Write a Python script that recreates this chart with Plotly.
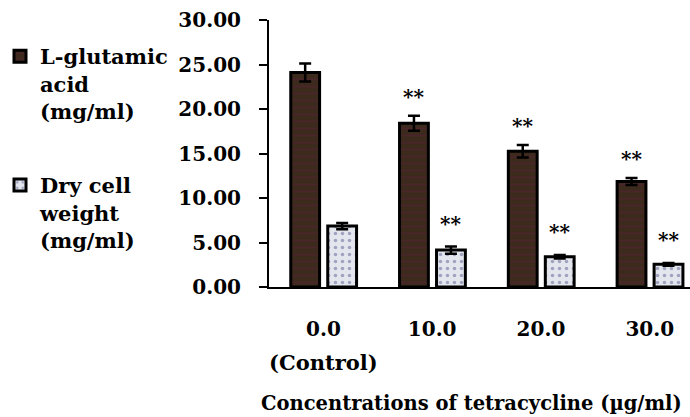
import plotly.graph_objects as go

categories = ["0.0", "10.0", "20.0", "30.0"]
glutamic = [24.1, 18.4, 15.25, 11.85]
glutamic_err = [1.0, 0.85, 0.7, 0.4]
dry_weight = [6.85, 4.15, 3.4, 2.55]
dry_err = [0.35, 0.4, 0.2, 0.15]
glutamic_sig = ["", "**", "**", "**"]
dry_sig = ["", "**", "**", "**"]
series_names = ["L-glutamic<br>acid<br>(mg/ml)", "Dry cell<br>weight<br>(mg/ml)"]
y_ticks = [0, 5, 10, 15, 20, 25, 30]

FONT = "DejaVu Serif"
W, H = 690, 417
ML, MR, MT, MB = 268, 0, 20, 130
pw = W - ML - MR
ph = H - MT - MB

xs = list(range(len(categories)))

fig = go.Figure()
fig.add_trace(go.Bar(
    x=xs, y=glutamic, name=series_names[0], legendgroup="a",
    width=0.265, offset=-0.30,
    marker=dict(color="#3c2a1d", line=dict(color="black", width=3),
                pattern=dict(shape="-", fgcolor="#5a2035", bgcolor="#3c2a1d", size=7, solidity=0.25)),
    error_y=dict(type="data", array=glutamic_err, color="black", thickness=2.5, width=6),
))
fig.add_trace(go.Bar(
    x=xs, y=dry_weight, name=series_names[1], legendgroup="b",
    width=0.265, offset=0.04,
    marker=dict(color="#e4e6ee", line=dict(color="black", width=3),
                pattern=dict(shape=".", fgcolor="#5b6090", bgcolor="#e4e6ee", size=7, solidity=0.2)),
    error_y=dict(type="data", array=dry_err, color="black", thickness=2.5, width=6),
))

annotations = []
for i in xs:
    if glutamic_sig[i]:
        annotations.append(dict(x=i - 0.30 + 0.1325, y=glutamic[i] + glutamic_err[i], xref="x", yref="y",
                                text="<b>%s</b>" % glutamic_sig[i], showarrow=False, yanchor="bottom", yshift=5,
                                font=dict(family=FONT, size=20, color="black")))
    if dry_sig[i]:
        annotations.append(dict(x=i + 0.04 + 0.1325, y=dry_weight[i] + dry_err[i], xref="x", yref="y",
                                text="<b>%s</b>" % dry_sig[i], showarrow=False, yanchor="bottom", yshift=9,
                                font=dict(family=FONT, size=20, color="black")))

annotations.append(dict(x=0, y=(MT + ph - 362) / ph, xref="x", yref="paper", text="<b>(Control)</b>",
                        showarrow=False, yanchor="middle", xanchor="center",
                        font=dict(family=FONT, size=21, color="black")))
annotations.append(dict(x=(258 - ML) / pw, y=(MT + ph - 403) / ph, xref="paper", yref="paper",
                        text="<b>Concentrations of tetracycline (µg/ml)</b>",
                        showarrow=False, yanchor="middle", xanchor="left",
                        font=dict(family=FONT, size=19.5, color="black")))

fig.update_layout(
    width=W, height=H,
    margin=dict(l=ML, r=MR, t=MT, b=MB, pad=0),
    paper_bgcolor="white", plot_bgcolor="white",
    barmode="overlay",
    showlegend=True,
    legend=dict(x=(-2 - ML) / pw, y=(MT + ph - 36) / ph, xanchor="left", yanchor="top",
                font=dict(family=FONT, size=21, color="black", weight="bold"),
                tracegroupgap=44, valign="top", bgcolor="rgba(0,0,0,0)"),
    font=dict(family=FONT, color="black"),
    annotations=annotations,
)
fig.update_xaxes(
    range=[-0.5, 3.37], tickmode="array", tickvals=xs, ticktext=["<b>%s</b>" % c for c in categories],
    showline=True, linecolor="black", linewidth=2, ticks="", showgrid=False, zeroline=False,
    tickfont=dict(family=FONT, size=20, color="black"), ticklabelstandoff=23,
)
fig.update_yaxes(
    range=[0, 30], tickmode="array", tickvals=y_ticks, ticktext=["<b>%.2f</b>" % v for v in y_ticks],
    showline=True, linecolor="black", linewidth=2, ticks="outside", ticklen=8, tickwidth=2,
    tickcolor="black", showgrid=False, zeroline=False,
    tickfont=dict(family=FONT, size=20, color="black"), ticklabelstandoff=14,
)

fig.write_html("out.html")
